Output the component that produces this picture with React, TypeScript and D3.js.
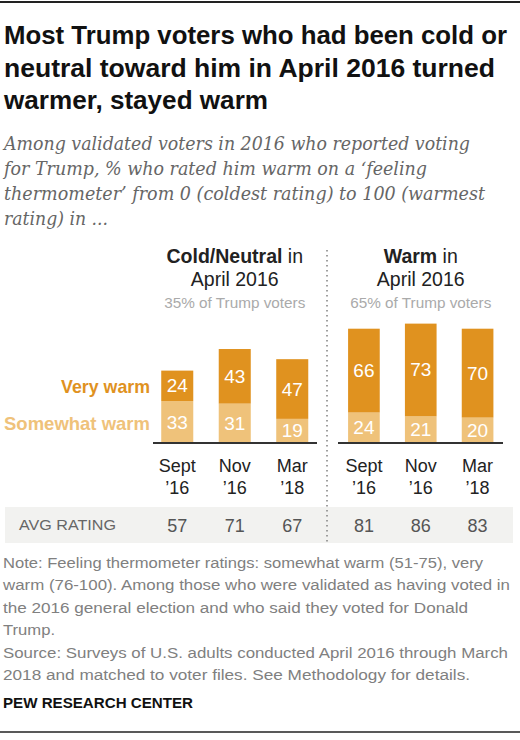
import * as d3 from 'd3';

// periods (two-line tick labels)
const periodMonths = ['Sept', 'Nov', 'Mar'];
const periodYears = ['’16', '’16', '’18'];

// Cold/Neutral in April 2016
const coldSomewhat = [33, 31, 19];
const coldVery = [24, 43, 47];
const coldAvg = [57, 71, 67];

// Warm in April 2016
const warmSomewhat = [24, 21, 20];
const warmVery = [66, 73, 70];
const warmAvg = [81, 86, 83];

const titleLines = [
  'Most Trump voters who had been cold or',
  'neutral toward him in April 2016 turned',
  'warmer, stayed warm',
];
const subtitleLines = [
  'Among validated voters in 2016 who reported voting',
  'for Trump, % who rated him warm on a ‘feeling',
  'thermometer’ from 0 (coldest rating) to 100 (warmest',
  'rating) in ...',
];
const noteLines = [
  'Note: Feeling thermometer ratings: somewhat warm (51-75), very',
  'warm (76-100). Among those who were validated as having voted in',
  'the 2016 general election and who said they voted for Donald',
  'Trump.',
  'Source: Surveys of U.S. adults conducted April 2016 through March',
  '2018 and matched to voter files. See Methodology for details.',
];

const DARK = '#e0921f';
const LIGHT = '#efc27a';
const SANS = '"Liberation Sans", Arial, sans-serif';

const baseY = 443;
const y = d3.scaleLinear().domain([0, 100]).range([baseY, baseY - 127]);

interface PanelProps {
  range: [number, number];
  somewhat: number[];
  very: number[];
  avg: number[];
  headBold: string;
  share: string;
}

const Panel = ({ range, somewhat, very, avg, headBold, share }: PanelProps) => {
  const x = d3
    .scaleBand<string>()
    .domain(periodMonths)
    .range(range)
    .paddingInner(0.443)
    .paddingOuter(0.2215);
  const bw = x.bandwidth();
  const cx = (range[0] + range[1]) / 2;
  return (
    <g>
      <text x={cx} y={263} textAnchor="middle" fontFamily={SANS} fontSize={19.5} fill="#222">
        <tspan fontWeight="bold">{headBold}</tspan> in
      </text>
      <text x={cx} y={286} textAnchor="middle" fontFamily={SANS} fontSize={19.5} fill="#222">
        April 2016
      </text>
      <text x={cx} y={308} textAnchor="middle" fontFamily={SANS} fontSize={15.3} fill="#aaa">
        {share}
      </text>
      {periodMonths.map((m, i) => {
        const x0 = x(m)!;
        const s = somewhat[i];
        const v = very[i];
        return (
          <g key={m}>
            <rect x={x0} y={y(s)} width={bw} height={baseY - y(s)} fill={LIGHT} />
            <rect x={x0} y={y(s + v)} width={bw} height={y(s) - y(s + v)} fill={DARK} />
            <text x={x0 + bw / 2} y={(y(0) + y(s)) / 2 + 6.5} textAnchor="middle" fontFamily={SANS} fontSize={19} fill="#fff">
              {s}
            </text>
            <text x={x0 + bw / 2} y={(y(s) + y(s + v)) / 2 + 6.5} textAnchor="middle" fontFamily={SANS} fontSize={19} fill="#fff">
              {v}
            </text>
            <text x={x0 + bw / 2} y={472} textAnchor="middle" fontFamily={SANS} fontSize={18} fill="#222">
              {m}
            </text>
            <text x={x0 + bw / 2} y={494} textAnchor="middle" fontFamily={SANS} fontSize={18} fill="#222">
              {periodYears[i]}
            </text>
            <text x={x0 + bw / 2} y={532} textAnchor="middle" fontFamily={SANS} fontSize={18} fill="#555">
              {avg[i]}
            </text>
          </g>
        );
      })}
    </g>
  );
};

export default function App() {
  const leftRange: [number, number] = [148.5, 321];
  const rightRange: [number, number] = [335.5, 506];
  return (
    <svg width={520} height={740} style={{ position: 'absolute', left: 0, top: 0, background: '#fff' }}>
      <line x1={0} x2={520} y1={2} y2={2} stroke="#222" strokeWidth={2} />
      {titleLines.map((t, i) => (
        <text key={t} x={4} y={44 + i * 32.5} fontFamily={SANS} fontWeight="bold" fontSize={25.5} fill="#111"
          textLength={[503, 491, 264][i]} lengthAdjust="spacingAndGlyphs">
          {t}
        </text>
      ))}
      {subtitleLines.map((t, i) => (
        <text key={t} x={4} y={150 + i * 25} fontFamily='"DejaVu Serif", serif' fontStyle="italic" fontSize={18} fill="#666"
          textLength={[466, 423, 481, 104][i]} lengthAdjust="spacingAndGlyphs">
          {t}
        </text>
      ))}

      <rect x={5} y={507} width={508} height={36} fill="#f2f2f0" />
      <text x={19} y={530} fontFamily={SANS} fontSize={15} fill="#666" textLength={97} lengthAdjust="spacingAndGlyphs">
        AVG RATING
      </text>

      <text x={150} y={393} textAnchor="end" fontFamily={SANS} fontWeight="bold" fontSize={17.8} fill={DARK}>
        Very warm
      </text>
      <text x={150} y={430} textAnchor="end" fontFamily={SANS} fontWeight="bold" fontSize={18.5} fill={LIGHT}>
        Somewhat warm
      </text>

      <Panel range={leftRange} somewhat={coldSomewhat} very={coldVery} avg={coldAvg}
        headBold="Cold/Neutral" share="35% of Trump voters" />
      <Panel range={rightRange} somewhat={warmSomewhat} very={warmVery} avg={warmAvg}
        headBold="Warm" share="65% of Trump voters" />

      <line x1={153} x2={317} y1={baseY} y2={baseY} stroke="#333" strokeWidth={2} />
      <line x1={338} x2={503} y1={baseY} y2={baseY} stroke="#333" strokeWidth={2} />
      <line x1={327} x2={327} y1={250} y2={545} stroke="#888" strokeWidth={1.6} strokeDasharray="1.6 3.4" />

      {noteLines.map((t, i) => (
        <text key={t} x={3} y={568 + i * 22.4} fontFamily={SANS} fontSize={15.5} fill="#808080"
          textLength={[480, 507, 465, 52, 505, 467][i]} lengthAdjust="spacingAndGlyphs">
          {t}
        </text>
      ))}
      <text x={3} y={708} fontFamily={SANS} fontWeight="bold" fontSize={14} fill="#111" textLength={190} lengthAdjust="spacingAndGlyphs">
        PEW RESEARCH CENTER
      </text>
      <line x1={0} x2={520} y1={732} y2={732} stroke="#222" strokeWidth={1.5} />
    </svg>
  );
}
